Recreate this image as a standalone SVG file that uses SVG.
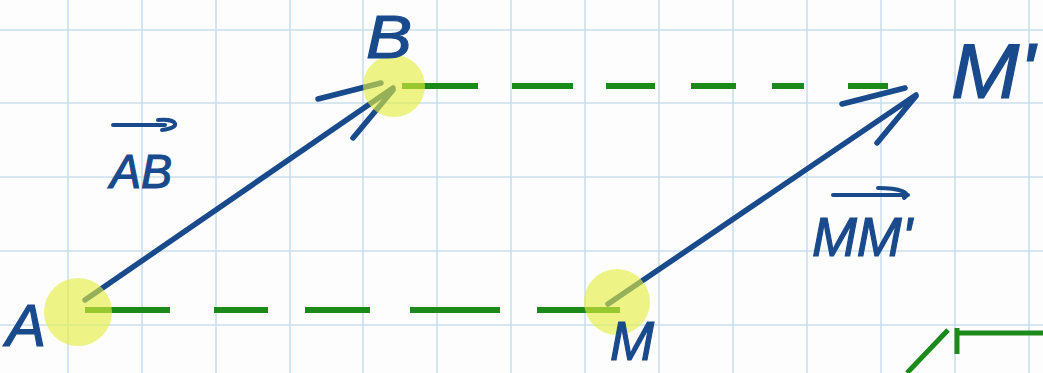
<svg xmlns="http://www.w3.org/2000/svg" width="1043" height="373" viewBox="0 0 1043 373">
<defs>
<style>
.grid line{stroke:#c9dfee;stroke-width:1.6}
.vec{stroke:#184a8c;stroke-width:5.5;stroke-linecap:round;fill:none}
.dash{stroke:#1b8a1b;stroke-width:6;stroke-linecap:butt;fill:none}
.hl{fill:#e4ef3c;opacity:0.62}
.lbl{font-family:"Liberation Sans",Arial,sans-serif;font-style:italic;fill:#184a8c;stroke:#184a8c;stroke-width:1.2}
</style>
</defs>
<rect width="1043" height="373" fill="#fdfdfd"/>
<g class="grid">
<line x1="-6" y1="0" x2="-6" y2="373"/><line x1="68" y1="0" x2="68" y2="373"/><line x1="142" y1="0" x2="142" y2="373"/><line x1="216" y1="0" x2="216" y2="373"/><line x1="290" y1="0" x2="290" y2="373"/><line x1="363" y1="0" x2="363" y2="373"/><line x1="437" y1="0" x2="437" y2="373"/><line x1="511" y1="0" x2="511" y2="373"/><line x1="585" y1="0" x2="585" y2="373"/><line x1="659" y1="0" x2="659" y2="373"/><line x1="733" y1="0" x2="733" y2="373"/><line x1="807" y1="0" x2="807" y2="373"/><line x1="881" y1="0" x2="881" y2="373"/><line x1="955" y1="0" x2="955" y2="373"/><line x1="1029" y1="0" x2="1029" y2="373"/>
<line x1="0" y1="30" x2="1043" y2="30"/><line x1="0" y1="103" x2="1043" y2="103"/><line x1="0" y1="177" x2="1043" y2="177"/><line x1="0" y1="251" x2="1043" y2="251"/><line x1="0" y1="325" x2="1043" y2="325"/>
</g>
<g id="connectors">
<path class="dash" d="M85 310H170M214 310H268M305 310H370M410 310H500M537 310H620"/>
<path class="dash" d="M402 86H478M512 86H573M606 86H655M691 86H736M772 86H804M848 86H888"/>
<path class="vec" d="M85 300L393 88M318 99L381 83M353 138L393 90"/>
<path class="vec" d="M608 304L916 95M842 104L905 88M877 143L916 96"/>
<path class="dash" d="M907 373L948 330M957 328V354M957 333H1043" style="stroke-width:5"/>
</g>
<g id="node-A"><circle class="hl" cx="78" cy="312" r="34"/><text class="lbl" x="6" y="346" font-size="60">A</text></g>
<g id="node-B"><circle class="hl" cx="394" cy="86" r="31"/><text class="lbl" x="366" y="58" font-size="62" textLength="46" lengthAdjust="spacingAndGlyphs">B</text></g>
<g id="node-M"><circle class="hl" cx="617" cy="302" r="33"/><text class="lbl" x="610" y="360" font-size="56" textLength="44" lengthAdjust="spacingAndGlyphs">M</text></g>
<g id="node-M2"><text class="lbl" x="951" y="98" font-size="78" textLength="84" lengthAdjust="spacingAndGlyphs">M'</text></g>
<g id="label-AB"><path class="vec" d="M113 125H165M158 120C178 118 182 128 162 130" style="stroke-width:4"/><text class="lbl" x="110" y="188" font-size="48" textLength="62" lengthAdjust="spacingAndGlyphs">AB</text></g>
<g id="label-MM"><path class="vec" d="M833 195H908M878 188C900 188 912 193 904 198" style="stroke-width:4"/><text class="lbl" x="812" y="256" font-size="56" textLength="100" lengthAdjust="spacingAndGlyphs">MM'</text></g>
</svg>
